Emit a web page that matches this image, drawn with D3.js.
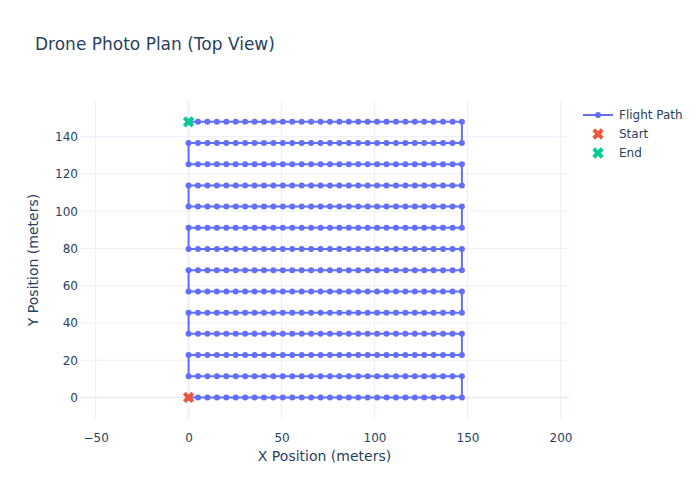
<!DOCTYPE html>
<html>
<head>
<meta charset="utf-8">
<script src="https://cdn.jsdelivr.net/npm/d3@7"></script>
<style>
  html, body { margin: 0; padding: 0; background: #fff; }
  svg { display: block; font-family: "DejaVu Sans", verdana, arial, sans-serif; }
</style>
</head>
<body>
<div id="chart"></div>
<script>
// ---- Data ----
// Photo positions along each pass (meters)
const passX = [0, 5.07, 10.14, 15.21, 20.28, 25.34, 30.41, 35.48, 40.55, 45.62,
               50.69, 55.76, 60.83, 65.90, 70.97, 76.03, 81.10, 86.17, 91.24, 96.31,
               101.38, 106.45, 111.52, 116.59, 121.66, 126.72, 131.79, 136.86, 141.93, 147.00];
// Y position of each pass (meters)
const passY = [0, 11.38, 22.77, 34.15, 45.54, 56.92, 68.31, 79.69, 91.08, 102.46,
               113.85, 125.23, 136.62, 148.00];
const startPoint = [0, 0];
const endPoint = [0, 148];
const xTicks = [-50, 0, 50, 100, 150, 200];
const yTicks = [0, 20, 40, 60, 80, 100, 120, 140];
const xDomain = [-58.4, 204.6];
const yDomain = [-12.1, 159.7];
const legendItems = ["Flight Path", "Start", "End"];

// Build serpentine flight path from the passes
const path = [];
passY.forEach((y, i) => {
  const xs = i % 2 === 0 ? passX : passX.slice().reverse();
  xs.forEach(x => path.push([x, y]));
});

// ---- Layout ----
const W = 700, H = 500;
const M = { left: 80, right: 569, top: 100, bottom: 420 };
const textColor = "#2a3f5f";
const gridColor = "#EBF0F8";
const pathColor = "#636efa";
const startColor = "#EF553B";
const endColor = "#00cc96";
const FONT = '"DejaVu Sans", verdana, arial, sans-serif';

const svg = d3.select("#chart").append("svg").attr("width", W).attr("height", H);

const x = d3.scaleLinear().domain(xDomain).range([M.left, M.right]);
const y = d3.scaleLinear().domain(yDomain).range([M.bottom, M.top]);

// Gridlines
const grid = svg.append("g");
grid.selectAll(".vg").data(xTicks.filter(t => t !== 0)).join("line")
  .attr("x1", d => x(d)).attr("x2", d => x(d))
  .attr("y1", M.top).attr("y2", M.bottom)
  .attr("stroke", gridColor).attr("stroke-width", 1);
grid.selectAll(".hg").data(yTicks.filter(t => t !== 0)).join("line")
  .attr("y1", d => y(d)).attr("y2", d => y(d))
  .attr("x1", M.left).attr("x2", M.right)
  .attr("stroke", gridColor).attr("stroke-width", 1);
// Zero lines
grid.append("line").attr("x1", x(0)).attr("x2", x(0)).attr("y1", M.top).attr("y2", M.bottom)
  .attr("stroke", gridColor).attr("stroke-width", 2);
grid.append("line").attr("y1", y(0)).attr("y2", y(0)).attr("x1", M.left).attr("x2", M.right)
  .attr("stroke", gridColor).attr("stroke-width", 2);

// Axes (labels only)
const fmt = d => d < 0 ? "\u2212" + Math.abs(d) : String(d);
const xAxis = svg.append("g").attr("transform", `translate(0,${M.bottom})`)
  .call(d3.axisBottom(x).tickValues(xTicks).tickFormat(fmt).tickSize(0).tickPadding(13));
const yAxis = svg.append("g").attr("transform", `translate(${M.left},0)`)
  .call(d3.axisLeft(y).tickValues(yTicks).tickFormat(fmt).tickSize(0).tickPadding(2));
[xAxis, yAxis].forEach(a => {
  a.select(".domain").remove();
  a.selectAll("text").attr("fill", textColor).style("font-size", "12px")
    .style("font-family", FONT);
});

// Plotly-style "x" symbol
function xSymbol(size) {
  const r = size / 2;
  const rx = +(r * 0.8 / Math.SQRT2).toFixed(2);
  const ne = `l${rx},${rx}`, se = `l${rx},-${rx}`, sw = `l-${rx},-${rx}`, nw = `l-${rx},${rx}`;
  return `M0,${rx}` + ne + se + sw + se + sw + nw + sw + nw + ne + nw + ne + "Z";
}

// Flight path
const plot = svg.append("g");
plot.append("path").datum(path)
  .attr("d", d3.line().x(d => x(d[0])).y(d => y(d[1])))
  .attr("fill", "none").attr("stroke", pathColor).attr("stroke-width", 2)
  .attr("stroke-linejoin", "round");
plot.selectAll(".pt").data(path).join("circle")
  .attr("cx", d => x(d[0])).attr("cy", d => y(d[1])).attr("r", 3)
  .attr("fill", pathColor);

// Start and end markers
plot.append("path").attr("d", xSymbol(10))
  .attr("transform", `translate(${x(startPoint[0])},${y(startPoint[1])})`)
  .attr("fill", startColor);
plot.append("path").attr("d", xSymbol(10))
  .attr("transform", `translate(${x(endPoint[0])},${y(endPoint[1])})`)
  .attr("fill", endColor);

// Title
svg.append("text").attr("x", 35).attr("y", 50)
  .attr("fill", textColor).style("font-size", "17px")
  .text("Drone Photo Plan (Top View)");

// Axis titles
svg.append("text").attr("x", (M.left + M.right) / 2).attr("y", 461)
  .attr("text-anchor", "middle").attr("fill", textColor).style("font-size", "14px")
  .text("X Position (meters)");
svg.append("text")
  .attr("transform", `translate(38,${(M.top + M.bottom) / 2}) rotate(-90)`)
  .attr("text-anchor", "middle").attr("fill", textColor).style("font-size", "14px")
  .text("Y Position (meters)");

// Legend
const lg = svg.append("g").attr("transform", "translate(583,0)");
const ly = [115, 134, 153];
legendItems.forEach((name, i) => {
  const g = lg.append("g").attr("transform", `translate(0,${ly[i]})`);
  if (i === 0) {
    g.append("line").attr("x1", 0).attr("x2", 30).attr("y1", 0).attr("y2", 0)
      .attr("stroke", pathColor).attr("stroke-width", 2);
    g.append("circle").attr("cx", 15).attr("cy", 0).attr("r", 3).attr("fill", pathColor);
  } else {
    g.append("path").attr("d", xSymbol(10)).attr("transform", "translate(15,0)")
      .attr("fill", i === 1 ? startColor : endColor);
  }
  g.append("text").attr("x", 36).attr("y", 0).attr("dy", "0.35em")
    .attr("fill", textColor).style("font-size", "12px").text(name);
});
</script>
</body>
</html>
